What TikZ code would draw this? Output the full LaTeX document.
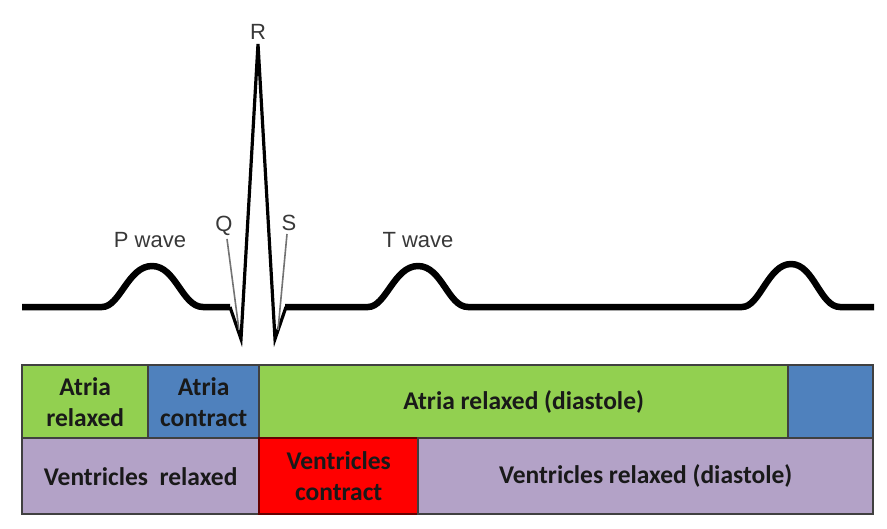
\documentclass[tikz,border=0pt]{standalone}
\usepackage{fontspec}
\setmainfont{Liberation Sans}
\newfontfamily\barfont{Carlito}
\begin{document}
\begin{tikzpicture}[x=1pt,y=-1pt,
  lbl/.style={font=\fontsize{22}{26}\selectfont, text=black!78, inner sep=0pt},
  cell/.style={draw=black!75, line width=2.4pt, anchor=north west, inner sep=0pt,
     minimum height=#1, align=center, text=black!90,
     font=\barfont\bfseries\fontsize{25.5}{31}\selectfont},
  ecg/.style={line width=6.5pt, line join=round, line cap=butt},
  qrs/.style={line width=3.2pt, line join=miter},
  leader/.style={draw=black!55, line width=1.6pt}
]
\definecolor{cgreen}{HTML}{92D050}
\definecolor{cblue}{HTML}{4F81BD}
\definecolor{cpurple}{HTML}{B3A2C7}
\definecolor{cred}{HTML}{FF0000}
\useasboundingbox (0,0) rectangle (887,528);
\fill[white] (0,0) rectangle (887,528);

% ECG trace
\draw[ecg] (22,307) -- (102,307)
  .. controls (120,307) and (128,266) .. (152,266)
  .. controls (176,266) and (182,307) .. (203,307) -- (230,307);
\draw[ecg] (285,307) -- (368,307)
  .. controls (386,307) and (394,266) .. (418,266)
  .. controls (442,266) and (448,307) .. (468,307) -- (742,307)
  .. controls (760,307) and (768,264) .. (791,264)
  .. controls (814,264) and (820,307) .. (840,307) -- (874,307);
\coordinate (qstart) at (230,307);
\coordinate (qpt) at (241,339);
\coordinate (rpt) at (258,44);
\coordinate (spt) at (275,339);
\coordinate (send) at (286,307);
\draw[qrs] (qstart) -- (qpt) -- (rpt) -- (spt) -- (send);

% labels
\node[lbl] (R) at (258,32) {R};
\node[lbl] (Q) at (224,226) {Q};
\node[lbl] (S) at (289,223) {S};
\node[lbl] (P) at (150,240) {P wave};
\node[lbl] (T) at (418,240) {T wave};
\coordinate (qend) at (239,330);
\coordinate (sendl) at (278,330);
\draw[leader] (Q.south) ++(3,3) -- (qend);
\draw[leader] (S.south) ++(-2,3) -- (sendl);

% bars
\node[cell=73pt, fill=cgreen, minimum width=126pt] (a1) at (21,364) {Atria\\relaxed};
\node[cell=73pt, fill=cblue, minimum width=111pt] (a2) at (147,364) {Atria\\contract};
\node[cell=73pt, fill=cgreen, minimum width=529pt] (a3) at (258,364) {Atria relaxed (diastole)};
\node[cell=73pt, fill=cblue, minimum width=85pt] (a4) at (787,364) {};
\node[cell=76pt, fill=cpurple, minimum width=237pt] (v1) at (21,437) {Ventricles\ \ relaxed};
\node[cell=76pt, fill=cred, draw=red!40!black, minimum width=159pt] (v2) at (258,437) {Ventricles\\contract};
\node[cell=76pt, fill=cpurple, minimum width=455pt] (v3) at (417,437) {Ventricles relaxed (diastole)};
\end{tikzpicture}
\end{document}
